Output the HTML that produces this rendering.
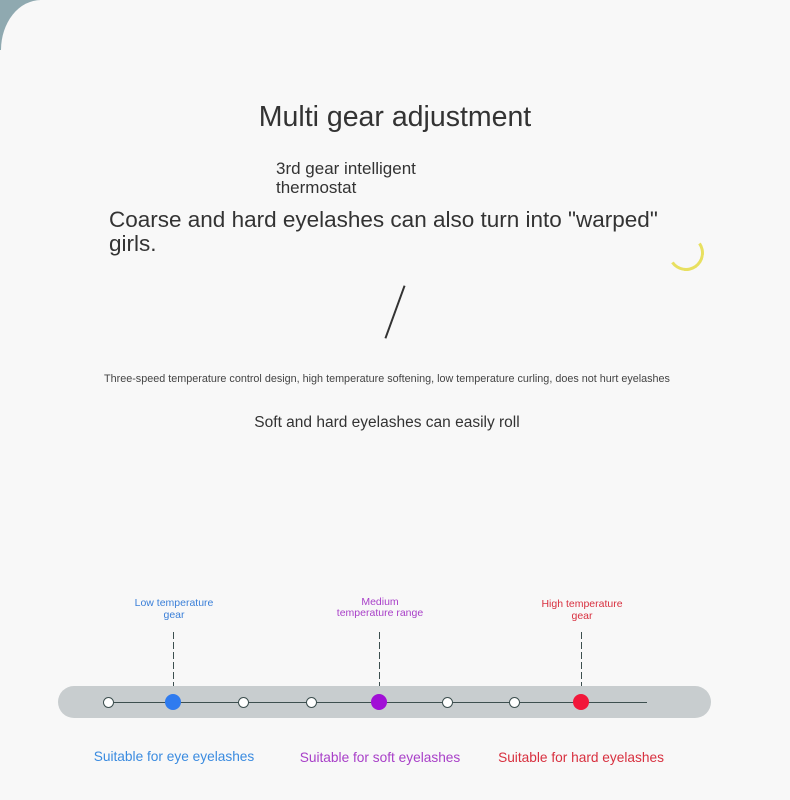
<!DOCTYPE html>
<html><head><style>
body{margin:0;width:790px;height:792px;background:#f8f8f8;position:relative;overflow:hidden;font-family:"Liberation Sans","DejaVu Sans",sans-serif;}
.cr{position:absolute;left:0;top:0;width:40px;height:50px;background:#8fa9b0;}
.pg{position:absolute;left:1px;top:0;width:800px;height:800px;background:#f8f8f8;border-top-left-radius:40px 50px;}
.t{position:absolute;white-space:nowrap;}
.c{position:absolute;transform:translateX(-50%);text-align:center;white-space:nowrap;}
.n{position:absolute;width:9px;height:9px;border:1px solid #3d4f4f;background:#fff;border-radius:50%;top:697px;}
.b{position:absolute;width:16px;height:16px;border-radius:50%;top:694px;}
.d{position:absolute;width:1px;top:632px;height:60px;background:repeating-linear-gradient(#3d4f4f 0 7px,transparent 7px 10px);}
</style></head><body>
<div class="cr"></div>
<div class="pg"></div>
<div class="c" style="left:395px;top:101px;font-size:28.5px;color:#333;">Multi gear adjustment</div>
<div class="t" style="left:276px;top:159px;font-size:17px;color:#333;line-height:19px;">3rd gear intelligent<br>thermostat</div>
<div class="t" style="left:109px;top:208px;font-size:22.5px;color:#333;line-height:24px;">Coarse and hard eyelashes can also turn into "warped"<br>girls.</div>
<div style="position:absolute;left:668px;top:235px;width:30px;height:30px;border:3px solid transparent;border-right-color:#e8e060;border-bottom-color:#e8e060;border-radius:50%;transform:rotate(10deg);"></div>
<div style="position:absolute;left:394px;top:284px;width:2px;height:56px;background:#333;transform:rotate(20deg);transform-origin:center;"></div>
<div class="t" style="left:104px;top:373px;font-size:10.8px;color:#444;">Three-speed temperature control design, high temperature softening, low temperature curling, does not hurt eyelashes</div>
<div class="c" style="left:387px;top:414px;font-size:15.5px;color:#333;">Soft and hard eyelashes can easily roll</div>
<div class="c" style="left:174px;top:597px;font-size:10.5px;color:#3a7fd8;line-height:12px;">Low temperature<br>gear</div>
<div class="c" style="left:380px;top:597px;font-size:10.5px;color:#a83fc8;line-height:11px;">Medium<br>temperature range</div>
<div class="c" style="left:582px;top:598px;font-size:10.5px;color:#d8303f;line-height:12px;">High temperature<br>gear</div>
<div class="d" style="left:173px;"></div>
<div class="d" style="left:379px;"></div>
<div class="d" style="left:581px;"></div>
<div style="position:absolute;left:58px;top:686px;width:653px;height:32px;border-radius:16px;background:#c8cdcf;"></div>
<div style="position:absolute;left:108px;top:702px;width:539px;height:1px;background:#3d4f4f;"></div>
<div class="n" style="left:103px;"></div>
<div class="b" style="left:165px;background:#2f7bef;"></div>
<div class="n" style="left:238px;"></div>
<div class="n" style="left:306px;"></div>
<div class="b" style="left:371px;background:#a10fd6;"></div>
<div class="n" style="left:442px;"></div>
<div class="n" style="left:509px;"></div>
<div class="b" style="left:573px;background:#f2173a;"></div>
<div class="c" style="left:174px;top:749px;font-size:13.7px;color:#3a8be0;">Suitable for eye eyelashes</div>
<div class="c" style="left:380px;top:750px;font-size:13.7px;color:#a83fc8;">Suitable for soft eyelashes</div>
<div class="c" style="left:581px;top:750px;font-size:13.7px;color:#d8303f;">Suitable for hard eyelashes</div>
</body></html>
